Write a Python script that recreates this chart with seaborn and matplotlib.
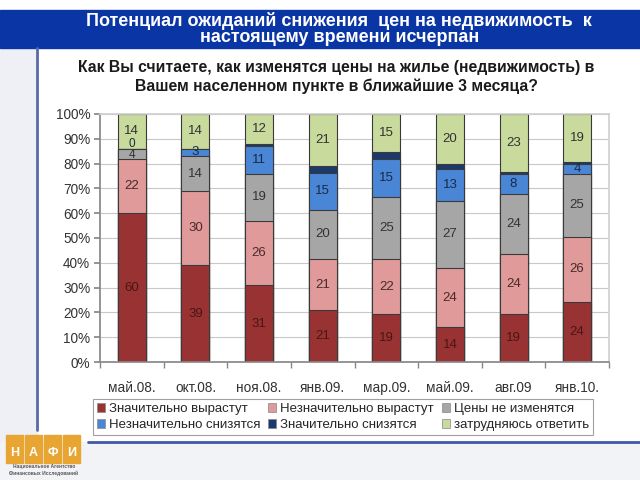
import pandas as pd
import numpy as np
import matplotlib.pyplot as plt
import matplotlib.patches as mpatches
import seaborn as sns

sns.set_theme(style="white")
plt.rcParams['font.family'] = ['Liberation Sans', 'DejaVu Sans']

months = ["май.08.", "окт.08.", "ноя.08.", "янв.09.", "мар.09.", "май.09.", "авг.09", "янв.10."]
series = ["Значительно вырастут", "Незначительно вырастут", "Цены не изменятся",
          "Незначительно снизятся", "Значительно снизятся", "затрудняюсь ответить"]
strong_up = [60, 39, 31, 21, 19, 14, 19, 24]
weak_up = [22, 30, 26, 21, 22, 24, 24, 26]
no_change = [4, 14, 19, 20, 25, 27, 24, 25]
weak_down = [0, 3, 11, 15, 15, 13, 8, 4]
strong_down = [0, 0, 1, 3, 3, 2, 1, 1]
dont_know = [14, 14, 12, 21, 15, 20, 23, 19]
colors = ["#993333", "#E09A9A", "#A6A6A6", "#4A86D6", "#1B3A6B", "#C8DA9C"]
label_colors = ["#4a1515", "#4a2a2a", "#333333", "#1a2a44", "#ffffff", "#333333"]

vals = np.array([strong_up, weak_up, no_change, weak_down, strong_down, dont_know], dtype=float)
shares = vals / vals.sum(axis=0) * 100
cum = np.cumsum(shares, axis=0)

fig = plt.figure(figsize=(6.4, 4.8), dpi=100)

# background decorations
fig.patches.append(mpatches.Rectangle((0, 0), 37/640, 1 - 48/480, transform=fig.transFigure,
                                      color="#EEF0F5", zorder=0))
fig.patches.append(mpatches.Rectangle((0, 0), 1, 1 - 442/480, transform=fig.transFigure,
                                      color="#F2F3F7", zorder=0))
fig.patches.append(mpatches.Rectangle((0, 1 - 48/480), 1, 38/480, transform=fig.transFigure,
                                      color="#0A35A5", zorder=1))
fig.add_artist(plt.Line2D([37/640, 37/640], [1 - 430/480, 1 - 48/480], color="#5A6AA8", lw=2))
fig.add_artist(plt.Line2D([88/640, 1], [1 - 442/480, 1 - 442/480], color="#4058A8", lw=2))

fig.text(0.53, 1 - 29/480, "Потенциал ожиданий снижения  цен на недвижимость  к\nнастоящему времени исчерпан",
         color="white", fontsize=13, fontweight="bold", ha="center", va="center", linespacing=0.9,
         family=['Liberation Sans Narrow', 'Liberation Sans', 'DejaVu Sans'])
fig.text(0.525, 1 - 77/480, "Как Вы считаете, как изменятся цены на жилье (недвижимость) в\nВашем населенном пункте в ближайшие 3 месяца?",
         color="#1a1a1a", fontsize=11.3, fontweight="bold", ha="center", va="center", linespacing=1.35)

ax = fig.add_axes([100/640, 1 - 362/480, 509/640, 248/480])

df = pd.DataFrame({"month": months})
for i in range(len(series) - 1, -1, -1):
    df["top"] = cum[i]
    sns.barplot(data=df, x="month", y="top", color=colors[i], width=0.44,
                edgecolor="#3a3a3a", linewidth=0.8, saturation=1, ax=ax, zorder=2)

for i in range(len(series)):
    if i == 4:
        continue
    for j in range(len(months)):
        if vals[i, j] == 0 and i != 3:
            continue
        y = cum[i, j] - shares[i, j] / 2
        fs = 9.5
        if vals[i, j] == 0:
            # squeezed labels on the first bar
            y += 1.8
            fs = 8.5
        elif i == 2 and shares[i, j] < 5:
            y -= 0.6
            fs = 8.5
        ax.text(j, y, f"{int(vals[i, j])}", ha="center", va="center", fontsize=fs,
                color=label_colors[i], zorder=5)

ax.set_ylim(0, 100)
ax.set_xlim(-0.5, len(months) - 0.5)
ax.set_yticks(np.arange(0, 101, 10))
ax.set_yticklabels([f"{t}%" for t in range(0, 101, 10)], fontsize=9.8, color="#333333")
ax.set_xticks(range(len(months)))
ax.set_xticklabels(months, fontsize=9.8, color="#333333")
ax.set_xlabel("")
ax.set_ylabel("")
ax.yaxis.grid(True, color="#C8C8C8", lw=0.8, zorder=0)
ax.set_axisbelow(True)
for s in ["top", "right"]:
    ax.spines[s].set_color("#D0D0D0")
for s in ["left", "bottom"]:
    ax.spines[s].set_color("#888888")
ax.tick_params(axis="y", which="both", left=True, length=4, color="#888888", pad=3)
ax.tick_params(axis="x", bottom=False, pad=8)
ax.set_xticks(np.arange(-0.5, len(months), 1), minor=True)
ax.tick_params(axis="x", which="minor", bottom=True, length=4, color="#888888")

# legend filled row by row like the original
order = [0, 3, 1, 4, 2, 5]
handles = [mpatches.Patch(facecolor=colors[k], edgecolor="#888888", lw=0.5) for k in order]
leg = fig.legend(handles, [series[k] for k in order], loc="center", bbox_to_anchor=(343/640, 1 - 417/480),
                 ncol=3, fontsize=9.5, frameon=True, fancybox=False, edgecolor="#888888",
                 handlelength=0.6, handleheight=0.6, handletextpad=0.3, columnspacing=0.6,
                 borderpad=0.3, labelspacing=0.3)
leg.get_frame().set_linewidth(0.8)

# logo
for k, ch in enumerate("НАФИ"):
    x0 = (6 + k * 19) / 640
    fig.patches.append(mpatches.Rectangle((x0, 1 - 463/480), 17/640, 28/480, transform=fig.transFigure,
                                          color="#E8A531", zorder=3))
    fig.text(x0 + 8.5/640, 1 - 453/480, ch, color="white", fontsize=9, fontweight="bold",
             ha="center", va="center", zorder=4)
fig.text(44/640, 1 - 470/480, "Национальное Агентство\nФинансовых Исследований", fontsize=3.5,
         color="#555555", ha="center", va="center", fontweight="bold")

fig.savefig("out.png", dpi=100)
